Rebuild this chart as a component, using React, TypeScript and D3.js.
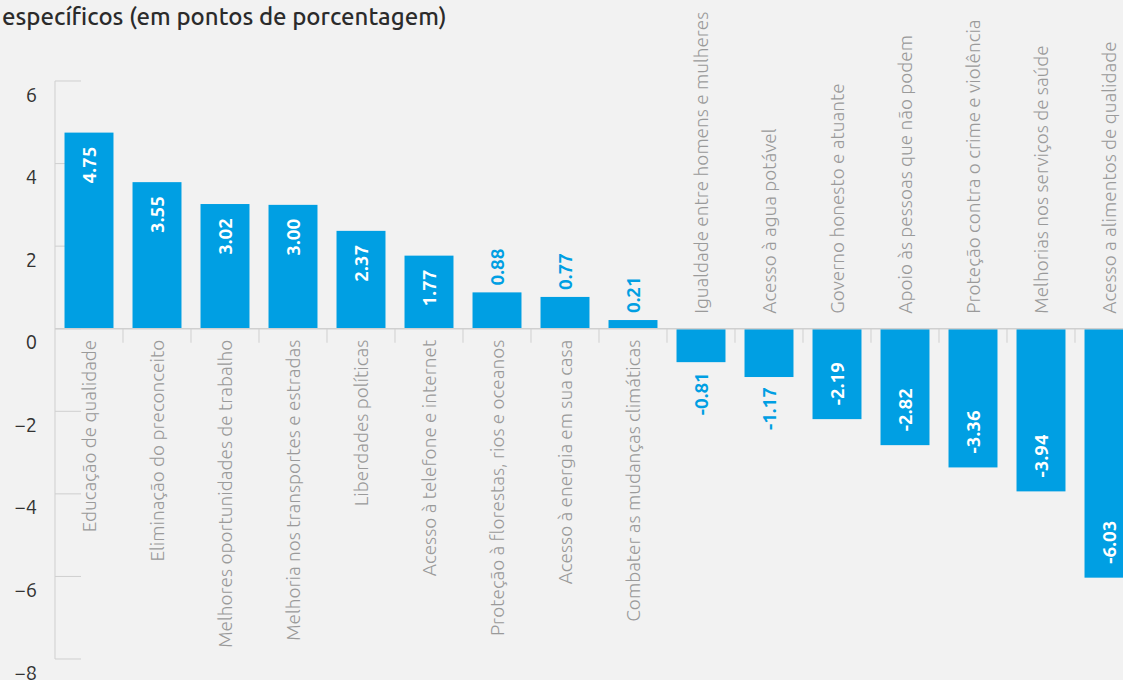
import React from "react";
import * as d3 from "d3";

const categories = [
  "Educação de qualidade",
  "Eliminação do preconceito",
  "Melhores oportunidades de trabalho",
  "Melhoria nos transportes e estradas",
  "Liberdades políticas",
  "Acesso à telefone e internet",
  "Proteção à florestas, rios e oceanos",
  "Acesso à energia em sua casa",
  "Combater as mudanças climáticas",
  "Igualdade entre homens e mulheres",
  "Acesso à agua potável",
  "Governo honesto e atuante",
  "Apoio às pessoas que não podem",
  "Proteção contra o crime e violência",
  "Melhorias nos serviços de saúde",
  "Acesso a alimentos de qualidade",
];
const values = [4.75, 3.55, 3.02, 3.0, 2.37, 1.77, 0.88, 0.77, 0.21, -0.81, -1.17, -2.19, -2.82, -3.36, -3.94, -6.03];
const yTicks = [6, 4, 2, 0, -2, -4, -6, -8];
const title = "específicos (em pontos de porcentagem)";

const W = 1123;
const H = 680;
const BLUE = "#009fe3";
const AXIS = "#cfcfcf";
const LABEL = "#9a9a9a";
const FONT = "Ubuntu, 'Open Sans', 'Noto Sans', sans-serif";

export default function App() {
  const x = d3
    .scaleBand<string>()
    .domain(categories)
    .range([55, 55 + 68 * categories.length])
    .paddingInner(0.28)
    .paddingOuter(0.14);
  const y = d3.scaleLinear().domain([-8, 6]).range([659, 81]);
  const y0 = y(0);
  const step = x.step();
  const fmt = (v: number) => (v < 0 ? "-" : "") + d3.format(".2f")(Math.abs(v));

  return (
    <svg
      width={W}
      height={H}
      style={{ position: "absolute", left: 0, top: 0, display: "block", background: "#f2f2f2" }}
      fontFamily={FONT}
    >
      <rect x={0} y={0} width={W} height={H} fill="#f2f2f2" />
      <text x={2} y={25} fontSize={24} fill="#2b2b2b" fontWeight={500}>
        {title}
      </text>

      {/* y axis */}
      <line x1={55} x2={55} y1={y(6)} y2={y(-8)} stroke={AXIS} strokeWidth={1} />
      {yTicks.map((t) => (
        <g key={t}>
          <line x1={55} x2={81} y1={y(t)} y2={y(t)} stroke={AXIS} strokeWidth={1} />
          <text
            x={37}
            y={y(t) + 13}
            textAnchor="end"
            dominantBaseline="central"
            fontSize={20}
            fill="#333"
          >
            {t < 0 ? "\u2212" + Math.abs(t) : String(t)}
          </text>
        </g>
      ))}

      {/* bars */}
      {categories.map((c, i) => {
        const v = values[i];
        const bx = x(c)!;
        const top = y(Math.max(0, v));
        const bottom = y(Math.min(0, v));
        return <rect key={c} x={bx} y={top} width={x.bandwidth()} height={bottom - top} fill={BLUE} />;
      })}

      {/* category axis */}
      <line x1={55} x2={W + 40} y1={y0} y2={y0} stroke={AXIS} strokeWidth={1.5} />
      {categories.map((c, i) =>
        i === 0 ? null : (
          <line key={"t" + c} x1={55 + step * i} x2={55 + step * i} y1={y0} y2={y0 + 14} stroke={AXIS} strokeWidth={1} />
        )
      )}

      {/* category labels */}
      {categories.map((c, i) => {
        const v = values[i];
        const cx = x(c)! + x.bandwidth() / 2;
        const ly = v >= 0 ? y0 + 11 : y0 - 15;
        return (
          <text
            key={"l" + c}
            transform={`translate(${cx},${ly}) rotate(-90)`}
            textAnchor={v >= 0 ? "end" : "start"}
            dominantBaseline="central"
            fontSize={19}
            fill={LABEL}
            fontWeight={300}
          >
            {c}
          </text>
        );
      })}

      {/* value labels */}
      {categories.map((c, i) => {
        const v = values[i];
        const cx = x(c)! + x.bandwidth() / 2;
        const inside = Math.abs(v) > 1.5;
        let ly: number;
        let anchor: string;
        if (v >= 0) {
          if (inside) {
            ly = y(v) + 14;
            anchor = "end";
          } else {
            ly = y(v) - 7;
            anchor = "start";
          }
        } else {
          if (inside) {
            ly = y(v) - 14;
            anchor = "start";
          } else {
            ly = y(v) + 10;
            anchor = "end";
          }
        }
        return (
          <text
            key={"v" + c}
            transform={`translate(${cx},${ly}) rotate(-90)`}
            textAnchor={anchor}
            dominantBaseline="central"
            fontSize={19}
            fontWeight={700}
            fill={inside ? "#ffffff" : BLUE}
          >
            {fmt(v)}
          </text>
        );
      })}
    </svg>
  );
}
